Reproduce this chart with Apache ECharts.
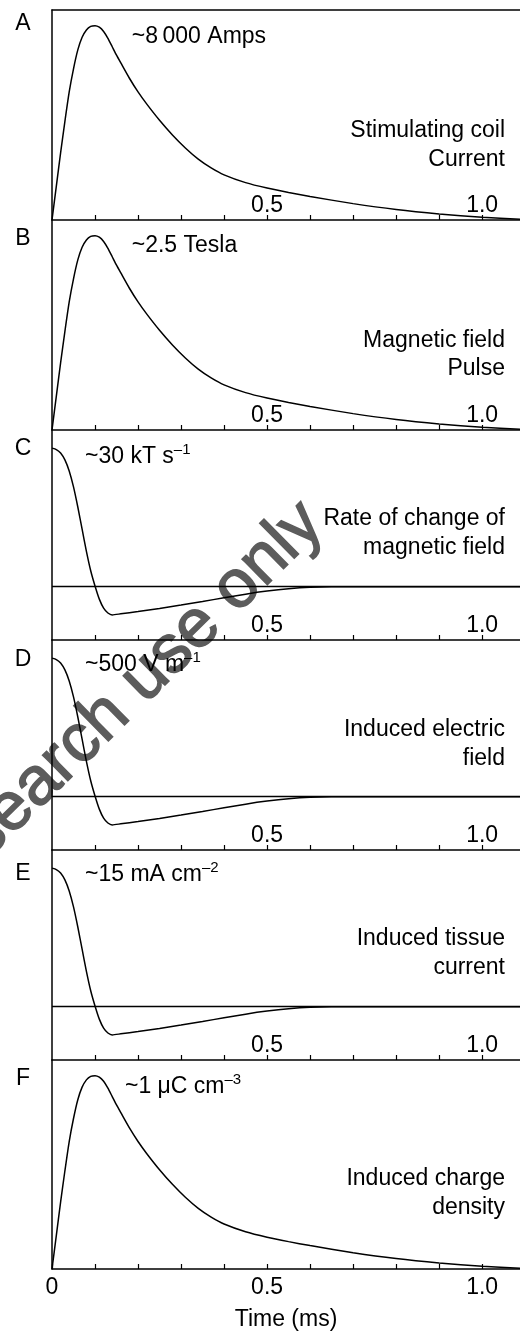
<!DOCTYPE html>
<html>
<head>
<meta charset="utf-8">
<script src="https://cdn.jsdelivr.net/npm/echarts@6/dist/echarts.min.js"></script>
<style>
html,body{margin:0;padding:0;background:#fff;}
#chart{width:520px;height:1332px;}
</style>
</head>
<body>
<div id="chart"></div>
<script>
// ---- data (time in ms, amplitudes relative to panel scale) ----
const pulseTime  = [0,0.01,0.02,0.03,0.04,0.05,0.06,0.07,0.08,0.09,0.10,0.11,0.12,0.13,0.14,0.15,0.16,0.18,0.20,0.22,0.25,0.28,0.31,0.34,0.37,0.40,0.45,0.50,0.55,0.60,0.70,0.80,0.90,1.00,1.088];
const pulseShape = [0,0.16,0.32,0.47,0.61,0.72,0.81,0.87,0.905,0.922,0.925,0.918,0.898,0.865,0.825,0.785,0.748,0.675,0.61,0.553,0.475,0.405,0.343,0.29,0.248,0.215,0.178,0.152,0.131,0.112,0.078,0.05,0.029,0.013,0.004];

const rateTime  = [0,0.01,0.02,0.03,0.04,0.05,0.06,0.07,0.08,0.09,0.10,0.11,0.12,0.13,0.14,0.16,0.20,0.25,0.30,0.35,0.40,0.45,0.50,0.55,0.60,0.65,0.70,1.088];
const rateShape = [1.0,0.99,0.965,0.915,0.835,0.72,0.575,0.415,0.255,0.115,0.005,-0.09,-0.155,-0.19,-0.204,-0.196,-0.18,-0.158,-0.133,-0.107,-0.08,-0.054,-0.032,-0.015,-0.004,0,0,0];

const panelLetters = ['A','B','C','D','E','F'];
const panelKinds   = ['pulse','pulse','rate','rate','rate','pulse'];
const peakMain     = ['~8\u2009000 Amps','~2.5 Tesla','~30 kT s','~500 V m','~15 mA cm','~1 \u03bcC cm'];
const peakSup      = ['','','\u20131','\u20131','\u20132','\u20133'];
const descLines    = [
  'Stimulating coil\nCurrent',
  'Magnetic field\nPulse',
  'Rate of change of\nmagnetic field',
  'Induced electric\nfield',
  'Induced tissue\ncurrent',
  'Induced charge\ndensity'
];
const xTickLabels = {'0':'0','0.5':'0.5','1':'1.0'};
const xAxisTitle = 'Time (ms)';
const watermark = 'Research use only';

// ---- layout ----
const FONT = "'Liberation Sans', Arial, Helvetica, sans-serif";
const panelTop = [10,220,430,640,850,1060];
const panelH = 210;
const letterY = [24,239,449,660,874,1079];
const peakPos = [[131.7,35],[131.7,244],[85,455],[85,663],[85,873],[125,1085]];
const descY = [145.3,354.8,533,744,953,1193];

const chart = echarts.init(document.getElementById('chart'), null, {renderer:'canvas'});

const grids = [], xAxes = [], yAxes = [], series = [], graphics = [];
panelTop.forEach((top, i) => {
  const isLast = i === 5;
  const isRate = panelKinds[i] === 'rate';
  grids.push({left:52, right:0, top:top, height:panelH});
  xAxes.push({
    gridIndex:i, type:'value', position:'bottom', min:0, max:1.088, interval:0.1,
    axisLine:{onZero:false, lineStyle:{color:'#000', width:1.5}},
    axisTick:{inside:true, length:5, lineStyle:{color:'#000', width:1.2}},
    splitLine:{show:false},
    axisLabel:{
      inside:!isLast, margin:isLast?7:3, fontSize:23, color:'#000', fontFamily:FONT,
      showMinLabel:isLast, showMaxLabel:false,
      formatter:function(v){
        const r = Math.round(v*10)/10;
        if (Math.abs(v - r) > 1e-6) return '';
        const k = String(r);
        if (k === '0' && !isLast) return '';
        return xTickLabels[k] || '';
      }
    },
    name: isLast ? xAxisTitle : '', nameLocation:'middle', nameGap:39,
    nameTextStyle:{fontSize:23, color:'#000', fontFamily:FONT}
  });
  yAxes.push({
    gridIndex:i, type:'value',
    min: isRate ? -0.385 : 0, max: isRate ? 1.131 : 1,
    axisLine:{show:true, onZero:false, lineStyle:{color:'#000', width:1.5}},
    axisTick:{show:false}, axisLabel:{show:false}, splitLine:{show:false}
  });
  const tArr = isRate ? rateTime : pulseTime;
  const vArr = isRate ? rateShape : pulseShape;
  const s = {
    type:'line', xAxisIndex:i, yAxisIndex:i, z:3,
    data: tArr.map((t,j)=>[t, vArr[j]]),
    symbol:'none', smooth:0.2,
    lineStyle:{color:'#000', width:1.5},
    silent:true
  };
  if (isRate) {
    s.markLine = {silent:true, symbol:['none','none'], label:{show:false},
      lineStyle:{color:'#000', width:1.3, type:'solid'}, data:[{yAxis:0}]};
  }
  series.push(s);

  graphics.push({type:'text', x:23, y:letterY[i], z:10,
    style:{text:panelLetters[i], font:'23px '+FONT, fill:'#000', textAlign:'center', textVerticalAlign:'middle'}});
  graphics.push({type:'text', x:peakPos[i][0], y:peakPos[i][1], z:10,
    style:{
      text:'{m|'+peakMain[i]+'}' + (peakSup[i] ? '{s|'+peakSup[i]+'}' : ''),
      rich:{
        m:{fontSize:23, fontFamily:FONT, fill:'#000', lineHeight:26, verticalAlign:'bottom'},
        s:{fontSize:15, fontFamily:FONT, fill:'#000', lineHeight:26, verticalAlign:'top'}
      },
      textAlign:'left', textVerticalAlign:'middle'
    }});
  graphics.push({type:'text', x:505, y:descY[i], z:10,
    style:{text:descLines[i], font:'23px '+FONT, fill:'#000', textAlign:'right', textVerticalAlign:'middle', lineHeight:28.5}});
});

// top frame line of panel A
xAxes.push({gridIndex:0, type:'value', position:'top', min:0, max:1.088,
  axisLine:{onZero:false, lineStyle:{color:'#000', width:1.5}},
  axisTick:{show:false}, axisLabel:{show:false}, splitLine:{show:false}});

// watermark
graphics.push({type:'text', x:112, y:711, rotation:Math.PI*44.5/180, z:0, silent:true,
  style:{text:watermark, font:'68px '+FONT, fill:'#5c5c5c', stroke:'#5c5c5c', lineWidth:1.5,
         textAlign:'center', textVerticalAlign:'middle'}});

chart.setOption({
  animation:false,
  backgroundColor:'#fff',
  grid:grids, xAxis:xAxes, yAxis:yAxes, series:series,
  graphic:graphics
});
</script>
</body>
</html>
